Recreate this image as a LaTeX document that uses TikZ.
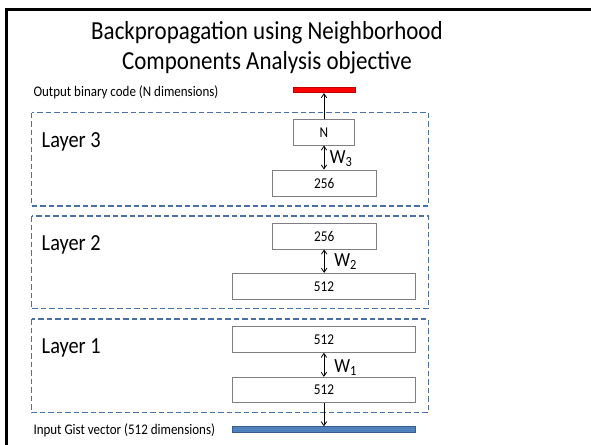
\documentclass[tikz,border=0pt]{standalone}
\usepackage{fontspec}
\setmainfont{Carlito}
\usetikzlibrary{arrows.meta}

\definecolor{boxgray}{HTML}{7F7F7F}
\definecolor{layerblue}{HTML}{4A6FA5}
\definecolor{codered}{HTML}{FF0000}
\definecolor{codeedge}{HTML}{C00000}
\definecolor{gistfill}{HTML}{4F81BD}
\definecolor{gistedge}{HTML}{385D8A}

\tikzset{
  unitbox/.style={draw=boxgray, line width=0.9pt, fill=white, inner sep=0pt,
    font=\fontsize{15}{18}\selectfont},
  layerframe/.style={draw=layerblue, line width=1.3pt, dash pattern=on 5.5pt off 3pt},
  layerlabel/.style={anchor=base west, inner sep=0pt, font=\fontsize{23}{27}\selectfont},
  smalltext/.style={anchor=base west, inner sep=0pt, font=\fontsize{14.7}{17}\selectfont},
  titletext/.style={anchor=base, inner sep=0pt, font=\fontsize{26}{30}\selectfont},
  weightlabel/.style={anchor=base west, inner sep=0pt, font=\fontsize{20}{24}\selectfont},
  flow/.style={line width=0.8pt, -{Straight Barb[length=4pt,width=5.5pt]}},
  biflow/.style={line width=0.8pt, {Straight Barb[length=4pt,width=5.5pt]}-{Straight Barb[length=4pt,width=5.5pt]}}
}

\begin{document}
% the slide is drawn in its own units and squeezed horizontally as a whole
\begin{tikzpicture}[x=1pt,y=-1pt,xscale=0.884,every node/.append style={transform shape}]
\useasboundingbox (0,0) rectangle (668.55,444);

% slide frame
\draw[line width=2.6pt] (7.5,460) -- (7.5,9.5) -- (700,9.5);

% title
\node[titletext] (title1) at (302,40) {Backpropagation using Neighborhood};
\node[titletext] (title2) at (302,70) {Components Analysis objective};

% layer frames
\draw[layerframe] (35.7,112.7) rectangle (484.7,206);
\draw[layerframe] (35.7,216) rectangle (484.7,308.7);
\draw[layerframe] (35.7,319) rectangle (484.7,412.7);

\node[layerlabel] (lab3) at (47,147.7) {Layer 3};
\node[layerlabel] (lab2) at (47,250.5) {Layer 2};
\node[layerlabel] (lab1) at (47,353.5) {Layer 1};

% output code and input vector
\node[smalltext] (outtext) at (37.7,96) {Output binary code (N dimensions)};
\node[smalltext] (intext) at (37.7,434) {Input Gist vector (512 dimensions)};

\node[draw=codeedge, fill=codered, line width=0.8pt, inner sep=0pt,
      minimum width=70pt, minimum height=5.7pt] (codebar) at (367,89.9) {};
\node[draw=gistedge, fill=gistfill, line width=0.8pt, inner sep=0pt,
      minimum width=207.3pt, minimum height=5.6pt] (gistbar) at (366.4,429.5) {};

% units
\node[unitbox, minimum width=69pt, minimum height=25.7pt] (top3) at (366.5,132.2) {N};
\node[unitbox, minimum width=118pt, minimum height=26pt] (bot3) at (366.7,183) {256};
\node[unitbox, minimum width=118pt, minimum height=25.7pt] (top2) at (366.7,236.2) {256};
\node[unitbox, minimum width=207.3pt, minimum height=26pt] (bot2) at (366.4,286.3) {512};
\node[unitbox, minimum width=207.3pt, minimum height=25.6pt] (top1) at (366.4,339.5) {512};
\node[unitbox, minimum width=207.3pt, minimum height=25.4pt] (bot1) at (366.4,390) {512};

% connections
\draw[flow] (top3.north) -- (top3.north |- codebar.south);
\draw[biflow] (bot3.north -| top3.south) -- (top3.south);
\draw[biflow] (bot2.north -| top2.south) -- (top2.south);
\draw[biflow] (bot1.north) -- (top1.south);
\draw[flow] (bot1.south) -- (bot1.south |- gistbar.north);

% weight labels
\node[weightlabel] (w3) at (373,163) {W\textsubscript{3}};
\node[weightlabel] (w2) at (378,266.7) {W\textsubscript{2}};
\node[weightlabel] (w1) at (378,372.7) {W\textsubscript{1}};
\end{tikzpicture}
\end{document}
